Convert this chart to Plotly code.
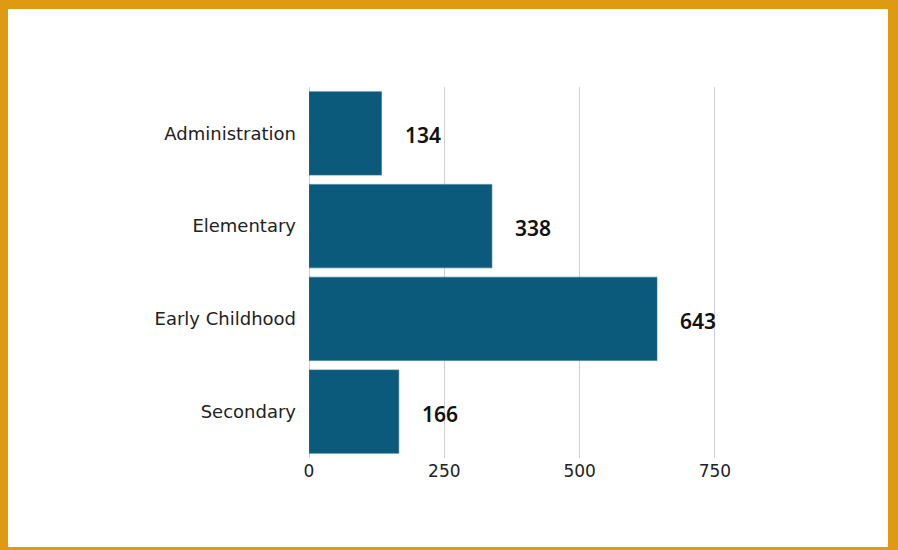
import plotly.graph_objects as go

categories = ["Administration", "Elementary", "Early Childhood", "Secondary"]
values = [134, 338, 643, 166]
tick_vals = [0, 250, 500, 750]
tick_text = ["0", "250", "500", "750"]

BAR = "#0b5a7c"
GOLD = "#de9b12"
FONT = "Noto Sans"
TICKFONT = "DejaVu Sans"

fig = go.Figure()
fig.add_trace(go.Bar(
    y=categories, x=values, orientation="h",
    marker=dict(color=BAR, line=dict(color="#3a7794", width=0.6)),
    hoverinfo="skip",
))

for c, v in zip(categories, values):
    fig.add_annotation(x=v, y=c, text=str(v), showarrow=False,
                       xanchor="left", xshift=21, yshift=-2,
                       font=dict(family=FONT, size=21, color="#111", weight=600))

L, R, T, B = 309, 182, 87, 92
W, H = 898, 550
pw, ph = W - L - R, H - T - B
def px(x): return (x - L) / pw
def py(y): return (H - B - y) / ph

fig.add_shape(type="rect", xref="paper", yref="paper",
              x0=px(8), x1=px(888), y0=py(547), y1=py(9),
              fillcolor="white", line=dict(width=0), layer="below")

fig.update_layout(
    width=W, height=H,
    margin=dict(l=L, r=R, t=T, b=B),
    paper_bgcolor=GOLD, plot_bgcolor="white",
    bargap=0.1, showlegend=False,
    font=dict(family=FONT, color="#222"),
    xaxis=dict(range=[0, 752], tickvals=tick_vals, ticktext=tick_text,
               showgrid=True, gridcolor="#cfcfcf", gridwidth=1,
               zeroline=True, zerolinecolor="#cfcfcf", zerolinewidth=1,
               tickfont=dict(family=TICKFONT, size=17, color="#222"), ticks="",
               ticklabelstandoff=1, showline=False, fixedrange=True),
    yaxis=dict(autorange="reversed",
               tickfont=dict(family=TICKFONT, size=18, color="#222"),
               ticks="", ticklabelstandoff=12, showgrid=False, fixedrange=True),
)

fig.write_html("out.html", config={"displayModeBar": False},
               post_script="document.body.style.margin='0';document.body.style.overflow='hidden';")
